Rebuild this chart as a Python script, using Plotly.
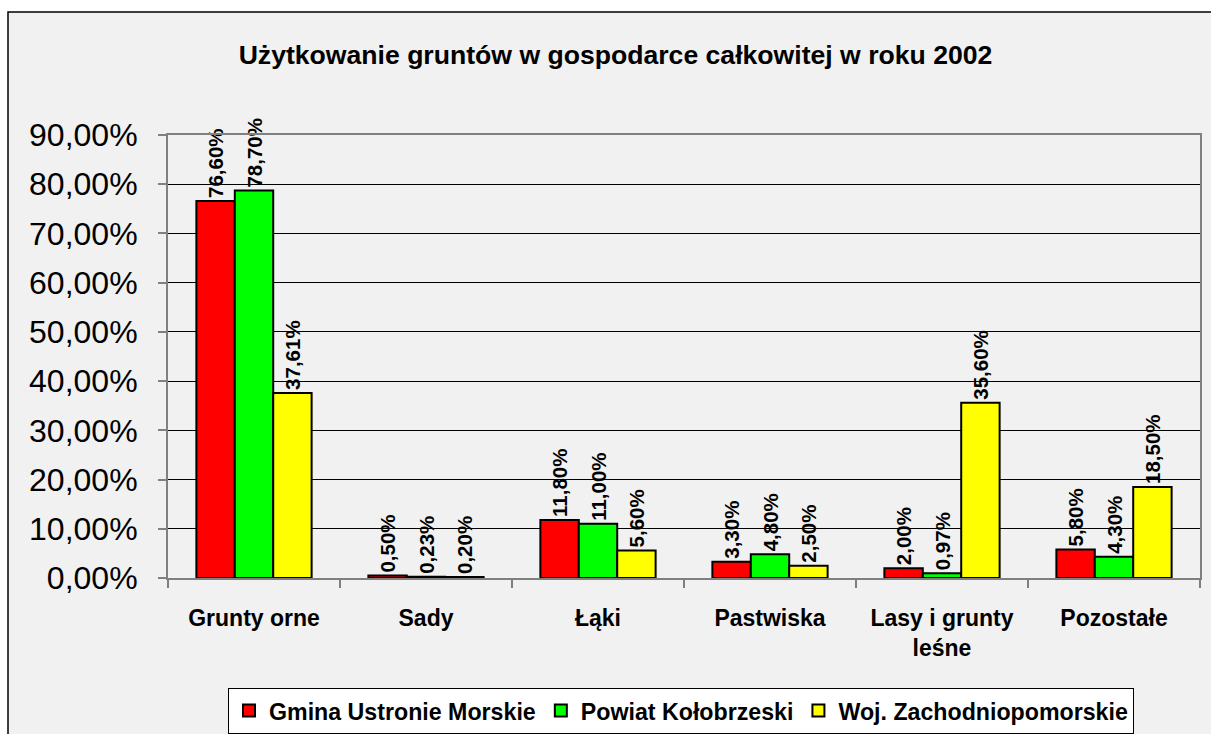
import plotly.graph_objects as go

categories = ["Grunty orne", "Sady", "Łąki", "Pastwiska", "Lasy i grunty<br>leśne", "Pozostałe"]
series_names = ["Gmina Ustronie Morskie", "Powiat Kołobrzeski", "Woj. Zachodniopomorskie"]
gmina = [76.60, 0.50, 11.80, 3.30, 2.00, 5.80]
powiat = [78.70, 0.23, 11.00, 4.80, 0.97, 4.30]
woj = [37.61, 0.20, 5.60, 2.50, 35.60, 18.50]
colors = ["#FF0000", "#00FF00", "#FFFF00"]
y_tick_vals = [0, 10, 20, 30, 40, 50, 60, 70, 80, 90]
y_tick_text = ["0,00%", "10,00%", "20,00%", "30,00%", "40,00%", "50,00%",
               "60,00%", "70,00%", "80,00%", "90,00%"]

FONT = "Liberation Sans, Arial, sans-serif"

def fmt(v):
    return f"{v:.2f}".replace(".", ",") + "%"

fig = go.Figure()
for name, vals, col in zip(series_names, [gmina, powiat, woj], colors):
    fig.add_trace(go.Bar(
        name=name, x=categories, y=vals,
        marker=dict(color=col, line=dict(color="#000000", width=2)),
        text=[fmt(v) for v in vals],
        textposition="outside", textangle=-90,
        textfont=dict(family=FONT, size=20.5, color="#000000", weight="bold"),
        constraintext="none", cliponaxis=False,
    ))

W, H = 1211, 734
L, R, T, B = 168, 11, 135, 156
pw, ph = W - L - R, H - T - B

def px_x(px):
    return (px - L) / pw

def px_y(py):
    return (H - B - py) / ph

fig.add_shape(type="rect", xref="paper", yref="paper",
              x0=px_x(8), x1=px_x(1260), y0=px_y(12), y1=px_y(780),
              fillcolor="#f1f1f1", line=dict(color="#000000", width=1.5),
              layer="below")

fig.update_layout(
    width=W, height=H,
    margin=dict(l=L, r=R, t=T, b=B, autoexpand=False),
    paper_bgcolor="#ffffff", plot_bgcolor="rgba(0,0,0,0)",
    barmode="group", bargap=0.33, bargroupgap=0,
    font=dict(family=FONT, color="#000000"),
    title=dict(text="<b>Użytkowanie gruntów w gospodarce całkowitej w roku 2002</b>",
               x=615.5 / W, xref="container", xanchor="center",
               y=1 - 55 / H, yref="container", yanchor="middle",
               font=dict(family=FONT, size=26.6, color="#000000")),
    showlegend=True,
    legend=dict(orientation="h", x=px_x(228), xanchor="left", y=px_y(688), yanchor="top",
                bgcolor="#ffffff", bordercolor="#000000", borderwidth=1,
                font=dict(family=FONT, size=23.2, color="#000000", weight="bold"),
                itemwidth=30, traceorder="normal"),
    xaxis=dict(showline=True, mirror=True, linecolor="#808080", linewidth=2,
               ticks="outside", tickson="boundaries", ticklen=8, tickcolor="#808080", tickwidth=2,
               tickfont=dict(family=FONT, size=23, color="#000000", weight="bold"),
               ticklabelstandoff=18, automargin=False,
               showgrid=False),
    yaxis=dict(range=[0, 90], tickvals=y_tick_vals, ticktext=y_tick_text,
               showline=True, mirror=True, linecolor="#808080", linewidth=2,
               ticks="outside", ticklen=8, tickcolor="#808080", tickwidth=2,
               tickfont=dict(family=FONT, size=32, color="#000000"),
               ticklabelstandoff=14, automargin=False,
               showgrid=True, gridcolor="#000000", gridwidth=1, zeroline=False),
)

fig.write_html("out.html", config={"displayModeBar": False, "staticPlot": True},
               post_script="document.body.style.margin='0px';document.body.style.overflow='hidden';")
